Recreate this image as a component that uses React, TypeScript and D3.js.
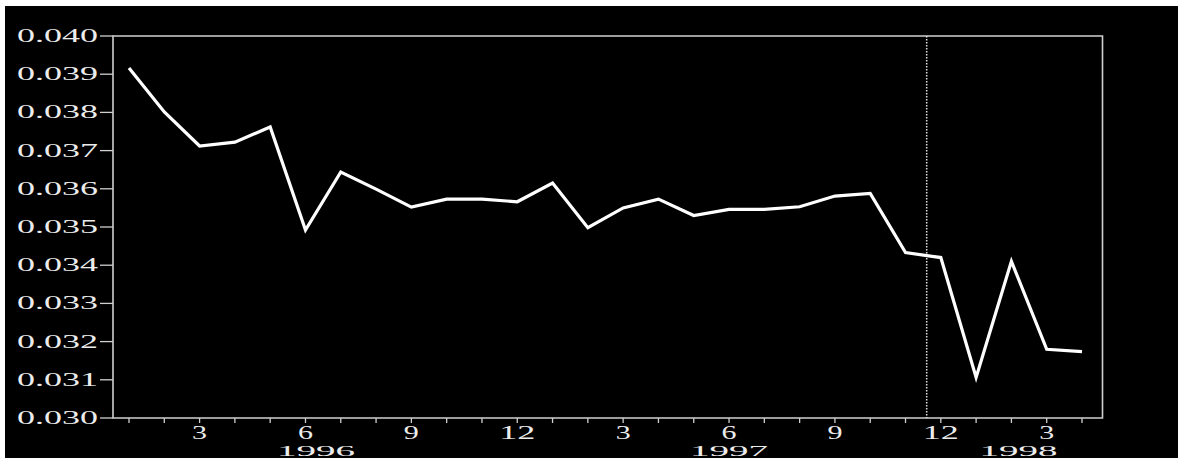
import React from "react";
import * as d3 from "d3";

// Monthly observations, Jan 1996 – Apr 1998
const periods = [
  "1996-01","1996-02","1996-03","1996-04","1996-05","1996-06","1996-07","1996-08","1996-09","1996-10","1996-11","1996-12",
  "1997-01","1997-02","1997-03","1997-04","1997-05","1997-06","1997-07","1997-08","1997-09","1997-10","1997-11","1997-12",
  "1998-01","1998-02","1998-03","1998-04",
];
const values = [
  0.03916, 0.03801, 0.03712, 0.03722, 0.03762, 0.03492, 0.03644, 0.03599, 0.03552, 0.03573,
  0.03573, 0.03566, 0.03615, 0.03498, 0.03550, 0.03573, 0.03530, 0.03546, 0.03546, 0.03553,
  0.03581, 0.03588, 0.03433, 0.03420, 0.03106, 0.03410, 0.03180, 0.03174,
];
const yTicks = [0.030, 0.031, 0.032, 0.033, 0.034, 0.035, 0.036, 0.037, 0.038, 0.039, 0.040];
const labelledMonths = [3, 6, 9, 12];
const yearLabels = ["1996", "1997", "1998"];
const yearLabelPos = [5.3, 17.0, 25.2];
const markerPos = 22.6;

export default function App() {
  const W = 1178, H = 458;
  const frameL = 113, frameR = 1102.5, frameT = 36, frameB = 418;
  const x = d3.scaleLinear().domain([0, periods.length - 1]).range([129, 1082]);
  const y = d3.scaleLinear().domain([0.030, 0.040]).range([frameB, frameT]);
  const line = d3.line<number>().x((_, i) => x(i)).y((d) => y(d));
  const frameColor = "#cfcfcf";
  const textColor = "#ececec";
  const font = "'Liberation Serif', 'DejaVu Serif', serif";

  return (
    <svg width={W} height={H} style={{ position: "absolute", left: 0, top: 0 }}>
      <rect x={0} y={0} width={W} height={H} fill="#fff" />
      <rect x={5} y={6} width={W - 5} height={H - 6} fill="#000" />
      {/* frame */}
      <path
        d={`M${frameL},${frameB} L${frameL},${frameT} L${frameR},${frameT} L${frameR},${frameB} Z`}
        fill="none"
        stroke={frameColor}
        strokeWidth={1.6}
      />
      {/* y ticks & labels */}
      {yTicks.map((t) => (
        <g key={t}>
          <line x1={frameL - 13} x2={frameL} y1={y(t)} y2={y(t)} stroke={frameColor} strokeWidth={1.3} />
          <text
            x={17}
            y={y(t) + 6}
            fill={textColor}
            fontFamily={font}
            fontSize={18}
            textLength={81}
            lengthAdjust="spacingAndGlyphs"
          >
            {d3.format(".3f")(t)}
          </text>
        </g>
      ))}
      {/* x ticks & month labels */}
      {periods.map((p, i) => {
        const m = +p.slice(5);
        return (
          <g key={p}>
            <line x1={x(i)} x2={x(i)} y1={frameB} y2={frameB + 5} stroke={frameColor} strokeWidth={1.3} />
            {labelledMonths.includes(m) && (
              <text
                x={x(i)}
                y={439}
                fill={textColor}
                fontFamily={font}
                fontSize={18}
                textAnchor="middle"
                textLength={m >= 10 ? 36 : 15}
                lengthAdjust="spacingAndGlyphs"
              >
                {m}
              </text>
            )}
          </g>
        );
      })}
      {yearLabels.map((yl, k) => (
        <text
          key={yl}
          x={x(yearLabelPos[k]) - 39}
          y={456}
          fill={textColor}
          fontFamily={font}
          fontSize={15}
          textLength={78}
          lengthAdjust="spacingAndGlyphs"
        >
          {yl}
        </text>
      ))}
      {/* dotted marker */}
      <line
        x1={x(markerPos)}
        x2={x(markerPos)}
        y1={frameT}
        y2={frameB}
        stroke="#e0e0e0"
        strokeWidth={1.5}
        strokeDasharray="1.5,1.5"
      />
      {/* series */}
      <path d={line(values) || ""} fill="none" stroke="#fff" strokeWidth={3.2} strokeLinejoin="miter" />
    </svg>
  );
}
